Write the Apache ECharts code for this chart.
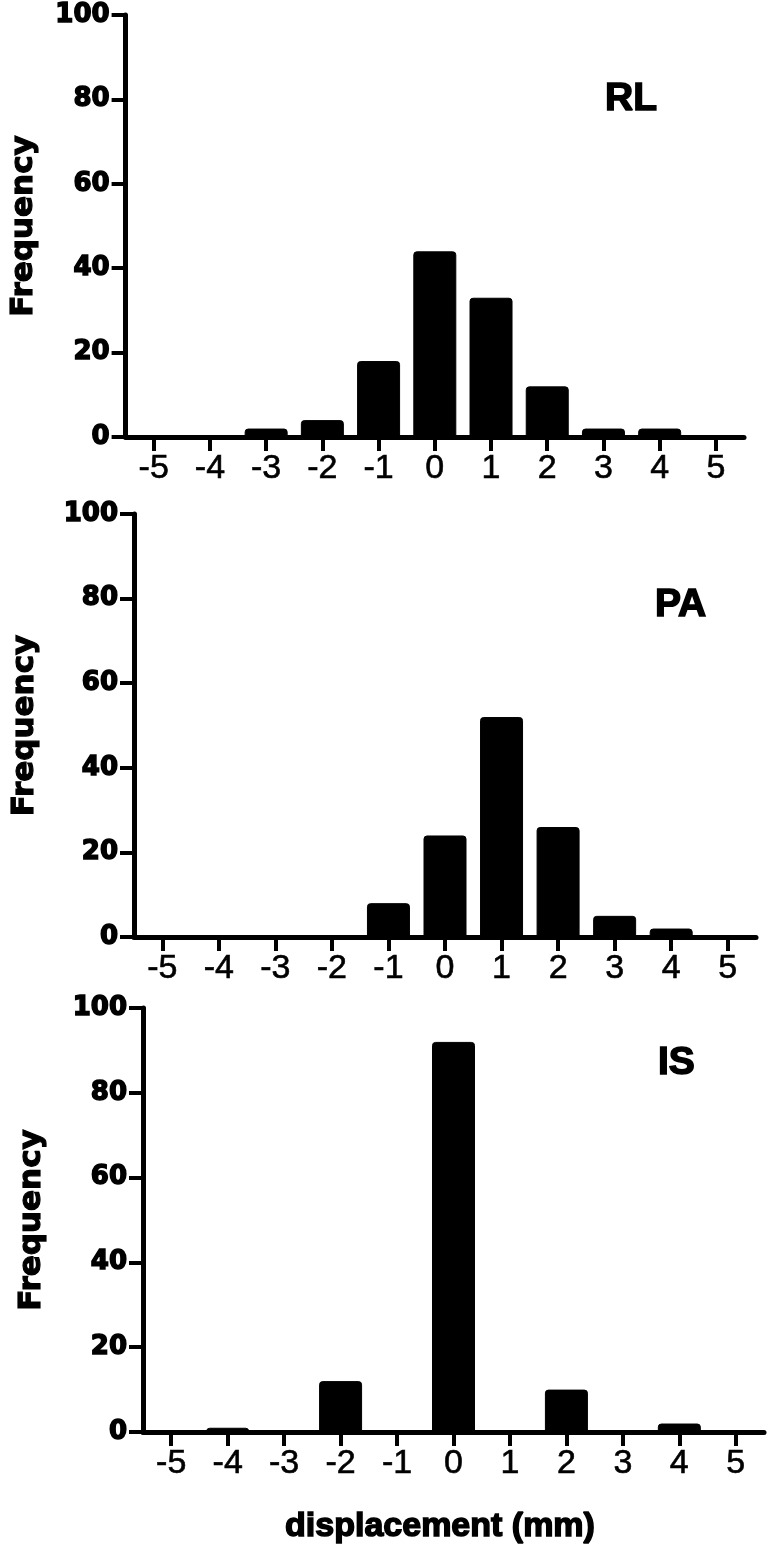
<!DOCTYPE html>
<html>
<head>
<meta charset="utf-8">
<script src="https://cdn.jsdelivr.net/npm/echarts@6/dist/echarts.min.js"></script>
<style>
html,body{margin:0;padding:0;background:#fff;}
#c{width:772px;height:1558px;}
</style>
</head>
<body>
<div id="c"></div>
<script>
// Data
var categories = ['-5','-4','-3','-2','-1','0','1','2','3','4','5'];
var rlValues = [0,0,2,4,18,44,33,12,2,2,0];
var paValues = [0,0,0,0,8,24,52,26,5,2,0];
var isValues = [0,1,0,12,0,92,0,10,0,2,0];
var panelNames = ['RL','PA','IS'];
var yTicks = [0,20,40,60,80,100];
var xAxisTitle = 'displacement (mm)';
var yAxisTitle = 'Frequency';

var series = [rlValues, paValues, isValues];
var grids = [
  {left:125, top:15,   width:619,  height:422},
  {left:134, top:514,  width:622,  height:423},
  {left:143, top:1008, width:621,  height:424}
];
var nameGaps = [86, 94, 96];
var titlePos = [{left:605, top:80},{left:655, top:586},{left:658, top:1044}];

var option = {
  backgroundColor:'#fff',
  animation:false,
  title: panelNames.map(function(n,i){
    return {text:n, left:titlePos[i].left, top:titlePos[i].top, padding:0,
      textStyle:{fontFamily:'Liberation Sans', fontWeight:'bold', fontSize:39, color:'#000',
        textBorderColor:'#000', textBorderWidth:1.5}};
  }),
  grid: grids,
  xAxis: grids.map(function(g,i){
    return {
      type:'category', gridIndex:i, data:categories, boundaryGap:true,
      name: i===2 ? xAxisTitle : '',
      nameLocation:'middle', nameGap:78,
      nameTextStyle:{fontFamily:'Liberation Sans', fontWeight:'bold', fontSize:34, color:'#000',
        textBorderColor:'#000', textBorderWidth:1.5, padding:[0,27,0,0]},
      axisLine:{show:true, lineStyle:{color:'#000', width:5}},
      axisTick:{show:true, alignWithLabel:true, length:14, lineStyle:{color:'#000', width:4}},
      axisLabel:{show:true, margin:15, fontFamily:'Liberation Sans', fontSize:34, color:'#000',
        textBorderColor:'#000', textBorderWidth:0.6, interval:0},
      splitLine:{show:false}
    };
  }),
  yAxis: grids.map(function(g,i){
    return {
      type:'value', gridIndex:i, min:0, max:100, interval:20,
      name:yAxisTitle, nameLocation:'middle', nameRotate:90, nameGap:nameGaps[i],
      nameTextStyle:{fontFamily:'DejaVu Sans', fontWeight:'bold', fontSize:31, color:'#000',
        textBorderColor:'#000', textBorderWidth:1.2},
      axisLine:{show:true, lineStyle:{color:'#000', width:5}},
      axisTick:{show:true, length:14, lineStyle:{color:'#000', width:4}},
      axisLabel:{show:true, margin:16, fontFamily:'DejaVu Sans', fontWeight:'bold', fontSize:26, color:'#000',
        textBorderColor:'#000', textBorderWidth:1.5},
      splitLine:{show:false}
    };
  }),
  series: series.map(function(vals,i){
    return {
      type:'bar', xAxisIndex:i, yAxisIndex:i, data:vals, barWidth:43,
      itemStyle:{color:'#000', borderColor:'#000', borderWidth:1, borderRadius:[3,3,0,0]}
    };
  })
};
var chart = echarts.init(document.getElementById('c'), null, {renderer:'canvas'});
chart.setOption(option);
</script>
</body>
</html>
